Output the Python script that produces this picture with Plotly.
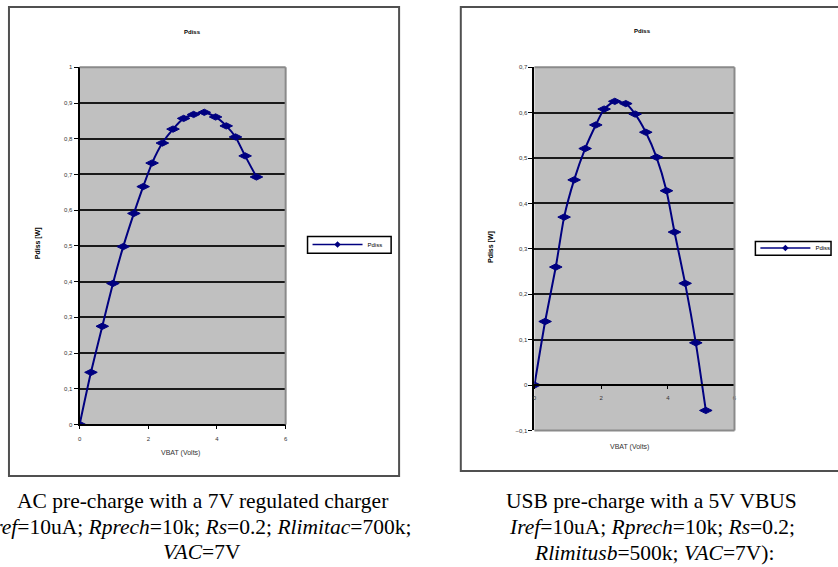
import plotly.graph_objects as go

# ---- data ----
vbat_ac = [0, 0.33, 0.66, 0.97, 1.27, 1.58, 1.85, 2.11, 2.41, 2.72, 3.03, 3.32, 3.63, 3.96, 4.27, 4.54, 4.82, 5.15]
pdiss_ac = [0, 0.146, 0.275, 0.395, 0.498, 0.591, 0.666, 0.732, 0.788, 0.827, 0.857, 0.868, 0.874, 0.861, 0.836, 0.805, 0.752, 0.693]

vbat_usb = [0, 0.32, 0.64, 0.89, 1.19, 1.52, 1.84, 2.09, 2.41, 2.74, 3.02, 3.34, 3.66, 3.96, 4.20, 4.52, 4.84, 5.14]
pdiss_usb = [0, 0.14, 0.26, 0.37, 0.452, 0.521, 0.573, 0.608, 0.625, 0.620, 0.597, 0.557, 0.502, 0.428, 0.337, 0.224, 0.093, -0.056]

series_name = "Pdiss"
chart_title = "Pdiss"
y_title = "Pdiss [W]"
x_title = "VBAT (Volts)"

caption_ac = ["AC pre-charge with a 7V regulated charger",
              "<i>Iref</i>=10uA; <i>Rprech</i>=10k; <i>Rs</i>=0.2; <i>Rlimitac</i>=700k;",
              "<i>VAC</i>=7V"]
caption_usb = ["USB pre-charge with a 5V VBUS",
               "<i>Iref</i>=10uA; <i>Rprech</i>=10k; <i>Rs</i>=0.2;",
               "<i>Rlimitusb</i>=500k; <i>VAC</i>=7V):"]

W, H = 838, 567
def px(x): return x / W
def py(y): return 1 - y / H

NAVY = "#000080"
GRID = "#1a1a1a"
SANS = "Liberation Sans, Arial, sans-serif"
SERIF = "Liberation Serif, Times New Roman, serif"

fig = go.Figure()

for xs, ys, xa, ya, lg in [(vbat_ac, pdiss_ac, "x", "y", "legend"),
                           (vbat_usb, pdiss_usb, "x2", "y2", "legend2")]:
    fig.add_trace(go.Scatter(
        x=xs, y=ys, xaxis=xa, yaxis=ya, mode="lines+markers",
        line=dict(color=NAVY, width=2, shape="spline", smoothing=0.6),
        marker=dict(symbol="diamond-wide", size=9, color=NAVY, line=dict(color=NAVY, width=1)),
        showlegend=False, name=series_name, hoverinfo="skip"))
    # legend entry (smaller sample marker as in the reference)
    fig.add_trace(go.Scatter(
        x=[None], y=[None], xaxis=xa, yaxis=ya, mode="lines+markers",
        line=dict(color=NAVY, width=1.5),
        marker=dict(symbol="diamond", size=5, color=NAVY),
        name=series_name, legend=lg, showlegend=True))

# domains
lx = [px(78), px(285)]; ly = [py(426), py(65)]
rx = [px(535), px(736)]; ry = [py(432), py(65)]
ry_range = [-0.1, 0.7]
zero_pos = ry[0] + (0 - ry_range[0]) / (ry_range[1] - ry_range[0]) * (ry[1] - ry[0])

tickfont = dict(family=SANS, size=6, color="#333333")
common_y = dict(showgrid=True, gridcolor=GRID, gridwidth=1.8, dtick=0.1, tick0=0,
                showline=True, linecolor="black", linewidth=2, ticks="outside",
                ticklen=4, tickcolor="black", tickfont=tickfont, zeroline=False,
                fixedrange=True)
common_x = dict(showgrid=False, range=[0, 6], dtick=2, tick0=0, showline=True,
                linecolor="black", linewidth=2, ticks="outside", ticklen=3,
                tickcolor="black", tickfont=tickfont, zeroline=False, fixedrange=True,
                ticklabelstandoff=4)

legend_common = dict(xanchor="left", yanchor="top", bgcolor="rgba(0,0,0,0)",
                     borderwidth=0, font=dict(family=SANS, size=6, color="black"),
                     itemwidth=50, tracegroupgap=0)

fig.update_layout(
    width=W, height=H, margin=dict(l=0, r=0, t=0, b=0),
    paper_bgcolor="white", plot_bgcolor="#c0c0c0",
    separators=", ",
    xaxis=dict(domain=lx, anchor="y", **common_x),
    yaxis=dict(domain=ly, anchor="x", range=[0, 1], **common_y),
    xaxis2=dict(domain=rx, anchor="free", position=zero_pos, **common_x),
    yaxis2=dict(domain=ry, anchor="x2", range=ry_range, **common_y),
    legend=dict(x=px(307), y=py(229.5), **legend_common),
    legend2=dict(x=px(757), y=py(233), **legend_common),
)

shapes = []
# outer chart boxes
shapes.append(dict(type="rect", xref="paper", yref="paper", x0=px(7), x1=px(399),
                   y0=py(478), y1=py(4), line=dict(color="#505050", width=2), layer="below"))
shapes.append(dict(type="rect", xref="paper", yref="paper", x0=px(461), x1=1.02,
                   y0=py(473), y1=py(4), line=dict(color="#505050", width=2), layer="below"))
# legend boxes
shapes.append(dict(type="rect", xref="paper", yref="paper", x0=px(307), x1=px(391),
                   y0=py(253), y1=py(236), line=dict(color="black", width=1.5), layer="below"))
shapes.append(dict(type="rect", xref="paper", yref="paper", x0=px(757), x1=px(833),
                   y0=py(255), y1=py(241), line=dict(color="black", width=1.5), layer="below"))
# gray top/right frame of each plot area
for dx, dy in [(lx, ly), (rx, ry)]:
    shapes.append(dict(type="line", xref="paper", yref="paper", x0=dx[0], x1=dx[1],
                       y0=dy[1], y1=dy[1], line=dict(color="#8a8a8a", width=2)))
    shapes.append(dict(type="line", xref="paper", yref="paper", x0=dx[1], x1=dx[1],
                       y0=dy[0], y1=dy[1], line=dict(color="#8a8a8a", width=2)))
# bottom frame of right plot area
shapes.append(dict(type="line", xref="paper", yref="paper", x0=rx[0], x1=rx[1],
                   y0=ry[0], y1=ry[0], line=dict(color="#8a8a8a", width=2)))
fig.update_layout(shapes=shapes)

ann = []
def note(text, x, y, font, **kw):
    d = dict(text=text, x=px(x), y=py(y), xref="paper", yref="paper",
             showarrow=False, xanchor="center", yanchor="middle", font=font)
    d.update(kw)
    ann.append(d)

small_bold = dict(family=SANS, size=7, color="black")
note("<b>" + chart_title + "</b>", 191, 29, dict(family=SANS, size=6, color="black"))
note("<b>" + chart_title + "</b>", 644, 28, dict(family=SANS, size=6, color="black"))
note("<b>" + y_title + "</b>", 37, 243, small_bold, textangle=-90)
note("<b>" + y_title + "</b>", 492, 247, small_bold, textangle=-90)
note(x_title, 179, 455, dict(family=SANS, size=7, color="#333333"))
note(x_title, 631, 449, dict(family=SANS, size=7, color="#333333"))

cap_font = dict(family=SERIF, size=21.5, color="black")
note(caption_ac[0], 201, 503, cap_font)
note(caption_ac[1], 413, 530, cap_font, xanchor="right")
note(caption_ac[2], 201, 555, cap_font)
note(caption_usb[0], 653, 503, cap_font)
note(caption_usb[1], 653, 530, cap_font)
note(caption_usb[2], 655, 556, cap_font)
fig.update_layout(annotations=ann)

fig.write_html("out.html")
